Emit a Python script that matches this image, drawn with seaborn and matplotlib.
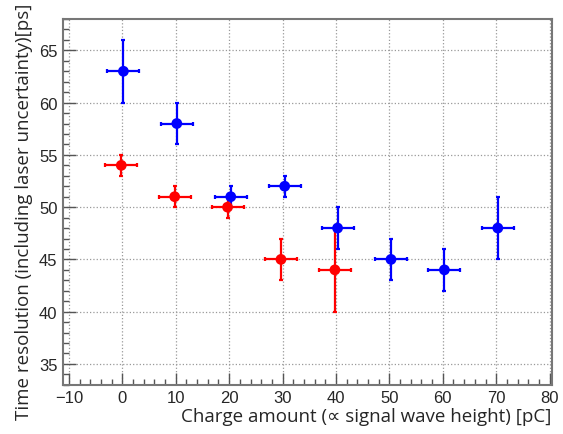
import matplotlib
matplotlib.use("Agg")
import matplotlib.pyplot as plt
import numpy as np
import pandas as pd
import seaborn as sns
from matplotlib.ticker import MultipleLocator

# blue series
blue_x = [0.2, 10.2, 20.3, 30.4, 40.3, 50.3, 60.3, 70.3]
blue_y = [63, 58, 51, 52, 48, 45, 44, 48]
blue_yerr = [3, 2, 1, 1, 2, 2, 2, 3]

# red series
red_x = [-0.2, 9.8, 19.7, 29.7, 39.8]
red_y = [54, 51, 50, 45, 44]
red_yerr = [1, 1, 1, 2, 4]

x_err = 3

sns.set_style("white")
plt.rcParams["font.family"] = ["Liberation Sans", "DejaVu Sans"]

df = pd.concat(
    [
        pd.DataFrame({"charge": blue_x, "res": blue_y, "err": blue_yerr, "set": "blue"}),
        pd.DataFrame({"charge": red_x, "res": red_y, "err": red_yerr, "set": "red"}),
    ],
    ignore_index=True,
)
palette = {"blue": "#0000ff", "red": "#ff0000"}

fig = plt.figure(figsize=(5.63, 4.35), dpi=100)
ax = fig.add_axes([0.112, 0.113, 0.868, 0.841])

for name, grp in df.groupby("set"):
    ax.errorbar(
        grp["charge"], grp["res"], xerr=x_err, yerr=grp["err"],
        fmt="none", ecolor=palette[name], elinewidth=1.6, capsize=1.5,
        capthick=1.6, zorder=2,
    )

sns.scatterplot(
    data=df, x="charge", y="res", hue="set", palette=palette,
    s=60, edgecolor="none", legend=False, ax=ax, zorder=3,
)

ax.set_xlim(-11.1, 80.4)
ax.set_ylim(33, 68)
ax.xaxis.set_major_locator(MultipleLocator(10))
ax.xaxis.set_minor_locator(MultipleLocator(2))
ax.yaxis.set_major_locator(MultipleLocator(5))
ax.yaxis.set_minor_locator(MultipleLocator(1))
ax.tick_params(which="both", direction="in", color="#555555", width=1,
               bottom=True, left=True, top=False, right=False)
ax.tick_params(which="major", length=9, labelsize=12, pad=4)
ax.tick_params(which="minor", length=4.5)
ax.grid(True, which="major", linestyle=":", color="#999999", linewidth=0.9)
for sp in ax.spines.values():
    sp.set_color("#777777")
    sp.set_linewidth(1.5)

ax.set_xlabel("Charge amount (\u221d signal wave height) [pC]",
              family=["Open Sans", "DejaVu Sans"], fontsize=13.5, loc="right", labelpad=1)
ax.set_ylabel("Time resolution (including laser uncertainty)[ps]",
              family=["Open Sans", "DejaVu Sans"], fontsize=13.5, loc="top")
ax.yaxis.set_label_coords(-0.062, 1.044)

fig.savefig("out.png", dpi=100)
